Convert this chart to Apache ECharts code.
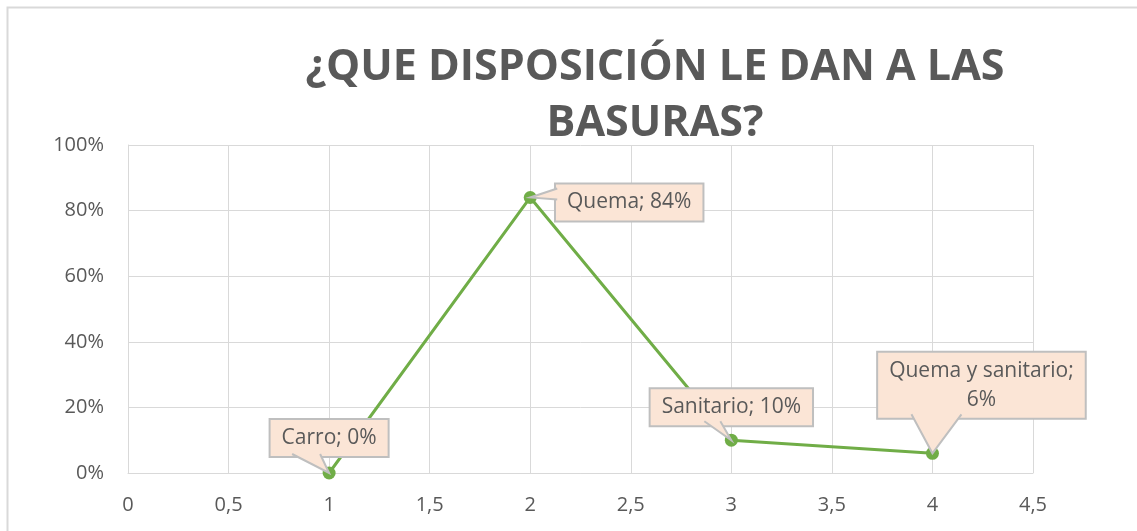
<!DOCTYPE html>
<html style="height: 100%">
<head>
    <meta charset="utf-8">
</head>
<body style="height: 100%; margin: 0; background: #fff">
<div id="chart_container" style="height: 531px; width: 1137px"></div>
<script src="https://cdn.jsdelivr.net/npm/echarts@6/dist/echarts.min.js"></script>
<script type="text/javascript">
    var categorias = ['Carro', 'Quema', 'Sanitario', 'Quema y sanitario'];
    var posiciones = [1, 2, 3, 4];
    var porcentajes = [0, 84, 10, 6];
    var ticksY = [0, 20, 40, 60, 80, 100];

    // desplazamiento de cada etiqueta respecto a su punto
    var etiquetaOffsets = [[0, -35], [99, 5], [0, -33], [49, -68]];
    // base de la "cola" de cada globo, relativa al punto (px)
    var colas = [
        [[-37, -19], [-9, -19]],
        [[27, -9], [27, 2]],
        [[-27, -19], [-11, -19]],
        [[-21, -39], [29, -39]]
    ];

    var dom = document.getElementById('chart_container');
    var myChart = echarts.init(dom);
    var gris = '#595959';
    var verde = '#70ad47';
    var relleno = '#fbe5d6';
    var borde = '#bfbfbf';

    var puntos = posiciones.map(function (x, i) {
        return {
            value: [x, porcentajes[i]],
            name: categorias[i],
            label: {
                offset: etiquetaOffsets[i],
                formatter: i === 3 ? categorias[i] + ';\n' + porcentajes[i] + '%' : categorias[i] + '; ' + porcentajes[i] + '%'
            }
        };
    });

    function dibujaCola(params, api) {
        var p = api.coord([api.value(0), api.value(1)]);
        var c = colas[params.dataIndex];
        var a = [p[0] + c[0][0], p[1] + c[0][1]];
        var b = [p[0] + c[1][0], p[1] + c[1][1]];
        return {
            type: 'group',
            children: [{
                type: 'polygon',
                shape: { points: [a, p, b] },
                style: { fill: relleno, stroke: null }
            }, {
                type: 'polyline',
                shape: { points: [a, p, b] },
                style: { fill: null, stroke: borde, lineWidth: 2 }
            }]
        };
    }

    var option = {
        backgroundColor: '#fff',
        textStyle: { fontFamily: 'Open Sans' },
        title: {
            text: '¿QUE DISPOSICIÓN LE DAN A LAS\nBASURAS?',
            left: 650,
            textAlign: 'center',
            top: 35,
            textStyle: {
                fontFamily: 'Open Sans',
                fontSize: 43,
                fontWeight: 'bold',
                color: gris,
                lineHeight: 56
            }
        },
        graphic: [{
            type: 'rect',
            shape: { x: 7.5, y: 7.5, width: 1140, height: 540 },
            style: { fill: null, stroke: '#d9d9d9', lineWidth: 2 },
            silent: true
        }],
        grid: { left: 128, right: 104, top: 145, bottom: 58 },
        xAxis: {
            type: 'value',
            min: 0,
            max: 4.5,
            interval: 0.5,
            axisLine: { show: true, lineStyle: { color: '#d9d9d9', width: 1 } },
            axisTick: { show: false },
            splitLine: { show: true, lineStyle: { color: '#d9d9d9' } },
            axisLabel: {
                color: gris,
                fontSize: 20,
                margin: 22,
                formatter: function (v) { return String(v).replace('.', ','); }
            }
        },
        yAxis: {
            type: 'value',
            min: ticksY[0],
            max: ticksY[ticksY.length - 1],
            interval: 20,
            axisLine: { show: true, lineStyle: { color: '#d9d9d9' } },
            axisTick: { show: false },
            splitLine: { show: true, lineStyle: { color: '#d9d9d9' } },
            axisLabel: {
                color: gris,
                fontSize: 20,
                margin: 24,
                formatter: '{value}%'
            }
        },
        series: [{
            type: 'line',
            data: puntos,
            symbol: 'circle',
            symbolSize: 13,
            lineStyle: { color: verde, width: 3 },
            itemStyle: { color: verde },
            label: {
                show: true,
                position: 'inside',
                color: gris,
                fontSize: 21,
                lineHeight: 29,
                align: 'center',
                backgroundColor: relleno,
                borderColor: borde,
                borderWidth: 2,
                padding: [4, 11, 3, 11]
            },
            z: 3
        }, {
            // colas de los globos de las etiquetas
            type: 'custom',
            data: posiciones.map(function (x, i) { return [x, porcentajes[i]]; }),
            renderItem: dibujaCola,
            silent: true,
            z: 4
        }]
    };

    myChart.setOption(option, true);
</script>
</body>
</html>
